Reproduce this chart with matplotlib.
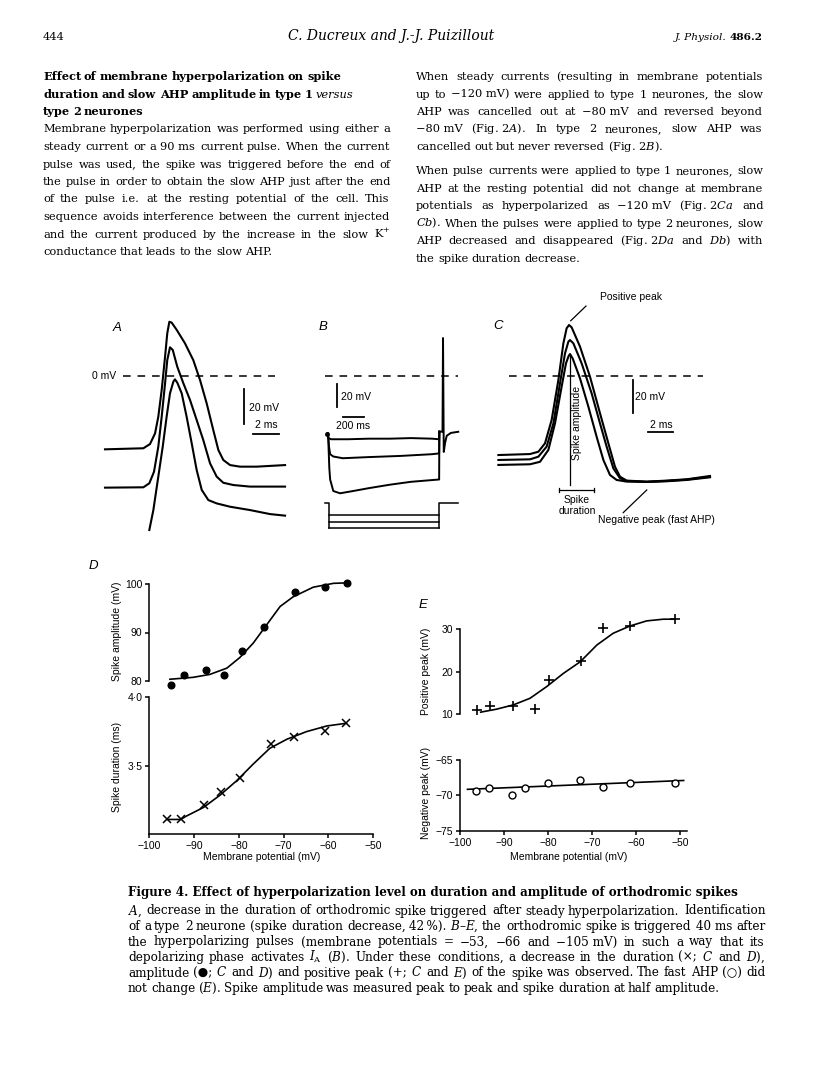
import numpy as np
import matplotlib
matplotlib.use('Agg')
from matplotlib import pyplot as plt

plt.rcParams['font.family'] = ['DejaVu Serif', 'DejaVu Sans']
plt.rcParams['mathtext.fontset'] = 'dejavuserif'
SANS = ['Liberation Sans', 'DejaVu Sans']

# ---- panel A: spikes after steady hyperpolarization (ms, mV)
a_t1 = [0, 2.95, 3.46, 3.85, 4.10, 4.36, 4.62, 4.79, 4.95, 5.13, 5.52, 6.15, 6.79, 7.31, 7.82, 8.33, 8.72, 9.10, 9.62, 10.38, 11.67, 13.85]
a_v1 = [-41.9, -41.3, -38.9, -32.8, -23.3, -8.0, 11.0, 24.4, 31.0, 30.5, 26.3, 18.7, 9.1, -2.3, -15.6, -30.9, -42.3, -48.0, -50.9, -51.8, -51.8, -50.9]
a_t2 = [0, 2.95, 3.41, 3.77, 4.10, 4.36, 4.62, 4.79, 5.0, 5.21, 5.56, 6.03, 6.54, 7.05, 7.56, 8.08, 8.59, 9.10, 9.87, 11.15, 13.85]
a_v2 = [-63.8, -63.6, -61.3, -54.7, -40.4, -23.3, -4.2, 9.1, 16.4, 14.9, 5.3, -4.2, -13.7, -25.1, -36.6, -49.9, -57.5, -61.0, -62.3, -63.2, -63.2]
a_t3 = [3.41, 3.72, 4.10, 4.44, 4.74, 5.0, 5.26, 5.38, 5.56, 5.90, 6.28, 6.67, 7.05, 7.44, 7.95, 8.59, 9.62, 11.15, 12.69, 13.85]
a_v3 = [-88, -76.6, -57.5, -40.4, -23.3, -9.9, -3.2, -1.9, -3.8, -9.9, -23.3, -38.5, -53.7, -65.1, -70.9, -72.8, -74.7, -76.6, -78.9, -79.8]

# ---- panel B: hyperpolarizing pulses (ms, mV)
b_t_top = [3, 12, 40, 200, 400, 600, 800, 1000, 1068, 1070]
b_v_top = [-50, -54, -55, -55, -54.5, -54.5, -54, -54.5, -55, -48.4]
b_t_mid = [10, 20, 30, 60, 150, 400, 700, 1000, 1068, 1070]
b_v_mid = [-50, -62, -68, -70, -71.5, -70.5, -69.5, -68, -67.3, -48.4]
b_t_low = [10, 22, 30, 60, 124, 250, 400, 600, 800, 1000, 1068, 1070]
b_v_low = [-50, -80, -90, -100, -102, -100, -97.5, -94.5, -92, -90.5, -90, -48.4]
b_t_post = [1070, 1100, 1105, 1112, 1125, 1140, 1180, 1250]
b_v_post = [-48.4, -48.4, 33, -66, -58, -52, -49.5, -48.5]
stim_t = [-19, 22, 1070, 1250]          # start, pulse on, pulse off, end
stim_base = -110.2
stim_levels = [-120.9, -126.7, -132.4]

# ---- panel C: spikes after pulses (ms, mV)
c_t1 = [0.03, 2.56, 3.23, 3.76, 4.29, 4.83, 5.23, 5.49, 5.68, 5.89, 6.56, 7.36, 8.16, 8.83, 9.36, 9.76, 10.29, 11.89, 13.49, 15.09, 16.96]
c_v1 = [-47.9, -47.3, -45.9, -40.8, -26.7, -2.4, 19.8, 28.9, 30.9, 29.5, 17.8, -0.4, -22.6, -40.8, -55.0, -61.0, -63.4, -64.0, -63.4, -62.6, -60.6]
c_t2 = [0.03, 2.56, 3.23, 3.89, 4.43, 4.96, 5.36, 5.63, 5.76, 6.03, 6.69, 7.49, 8.16, 8.69, 9.23, 9.76, 10.29, 11.89, 13.49, 15.09, 16.96]
c_v2 = [-50.9, -50.5, -48.9, -42.8, -28.7, -4.4, 13.7, 20.8, 21.8, 19.8, 7.7, -10.5, -28.7, -42.8, -56.0, -62.0, -63.6, -64.2, -63.6, -62.8, -61.0]
c_t3 = [0.03, 2.56, 3.36, 4.03, 4.56, 5.09, 5.44, 5.65, 5.76, 5.97, 6.56, 7.23, 7.89, 8.43, 8.96, 9.49, 10.29, 11.89, 13.49, 15.09, 16.96]
c_v3 = [-53.9, -53.5, -52.0, -44.8, -28.7, -6.5, 7.7, 12.1, 13.3, 10.7, -1.4, -18.6, -36.8, -50.9, -60.0, -63.0, -64.0, -64.2, -63.8, -63.0, -61.4]

# ---- panel D
d_amp_mv = [-95.2, -92.3, -87.4, -83.3, -79.3, -74.4, -67.4, -60.7, -55.8]
d_amp = [79.1, 81.2, 82.2, 81.2, 86.2, 91.1, 98.4, 99.4, 100.3]
d_amp_fit_mv = [-95.4, -90.2, -86.5, -82.7, -79.8, -76.8, -73.8, -70.8, -67.9, -63.4, -58.9, -55.8]
d_amp_fit = [80.3, 80.7, 81.3, 82.6, 84.8, 87.8, 91.6, 95.4, 97.4, 99.4, 100.2, 100.3]
d_dur_mv = [-96.0, -93.0, -87.9, -83.9, -79.8, -72.8, -67.8, -60.8, -56.0]
d_dur = [3.107, 3.107, 3.21, 3.31, 3.407, 3.659, 3.712, 3.756, 3.81]
d_dur_fit_mv = [-96.0, -93.0, -91.7, -87.9, -84.2, -80.5, -76.8, -73.1, -69.3, -64.9, -60.4, -56.0]
d_dur_fit = [3.107, 3.107, 3.132, 3.195, 3.285, 3.39, 3.512, 3.627, 3.693, 3.749, 3.79, 3.81]

# ---- panel E
e_pos_mv = [-96.2, -93.2, -88.0, -82.9, -79.7, -72.6, -67.6, -61.4, -51.1]
e_pos = [11.0, 12.0, 12.0, 11.2, 18.0, 22.5, 30.2, 30.7, 32.3]
e_pos_fit_mv = [-95.3, -91.7, -87.9, -84.1, -80.3, -76.5, -72.7, -68.9, -65.2, -61.4, -57.6, -53.8, -51.1]
e_pos_fit = [10.5, 11.2, 12.2, 13.75, 16.5, 19.6, 22.3, 26.25, 29.0, 30.7, 31.9, 32.3, 32.3]
e_neg_mv = [-96.4, -93.3, -88.3, -85.2, -80.0, -72.7, -67.6, -61.4, -51.1]
e_neg = [-69.4, -69.0, -69.9, -68.9, -68.3, -67.8, -68.8, -68.3, -68.3]
e_neg_fit_mv = [-98.3, -49.2]
e_neg_fit = [-69.15, -67.9]

x_ticks = [-100, -90, -80, -70, -60, -50]
x_ticklabels = ['\u2212100', '\u221290', '\u221280', '\u221270', '\u221260', '\u221250']

# ---- page text
heading = ['Effect of membrane hyperpolarization on spike',
           'duration and slow AHP amplitude in type 1 ~versus',
           'type 2 neurones']
left_body = ['Membrane hyperpolarization was performed using either a',
             'steady current or a 90\u00a0ms current pulse. When the current',
             'pulse was used, the spike was triggered before the end of',
             'the pulse in order to obtain the slow AHP just after the end',
             'of the pulse i.e. at the resting potential of the cell. This',
             'sequence avoids interference between the current injected',
             'and the current produced by the increase in the slow K$^{+}$',
             'conductance that leads to the slow AHP.']
right_p1 = ['When steady currents (resulting in membrane potentials',
            'up to \u2212120\u00a0mV) were applied to type 1 neurones, the slow',
            'AHP was cancelled out at \u221280\u00a0mV and reversed beyond',
            '\u221280\u00a0mV (Fig.\u00a02$A$). In type 2 neurones, slow AHP was',
            'cancelled out but never reversed (Fig.\u00a02$B$).']
right_p2 = ['When pulse currents were applied to type 1 neurones, slow',
            'AHP at the resting potential did not change at membrane',
            'potentials as hyperpolarized as \u2212120\u00a0mV (Fig.\u00a02$Ca$ and',
            '$Cb$). When the pulses were applied to type 2 neurones, slow',
            'AHP decreased and disappeared (Fig.\u00a02$Da$ and $Db$) with',
            'the spike duration decrease.']
caption_title = 'Figure 4. Effect of hyperpolarization level on duration and amplitude of orthodromic spikes'
caption = ['$A$, decrease in the duration of orthodromic spike triggered after steady hyperpolarization. Identification',
           'of a type 2 neurone (spike duration decrease, 42\u2009%). $B$\u2013$E$, the orthodromic spike is triggered 40\u00a0ms after',
           'the hyperpolarizing pulses (membrane potentials = \u221253, \u221266 and \u2212105\u00a0mV) in such a way that its',
           'depolarizing phase activates $I_{\\mathrm{A}}$ ($B$). Under these conditions, a decrease in the duration (\u00d7; $C$ and $D$),',
           'amplitude (\u25cf; $C$ and $D$) and positive peak (+; $C$ and $E$) of the spike was observed. The fast AHP (\u25cb) did',
           'not change ($E$). Spike amplitude was measured peak to peak and spike duration at half amplitude.']

W, H = 816, 1088
fig = plt.figure(figsize=(W / 100, H / 100), dpi=100)
renderer = fig.canvas.get_renderer()


def fx(x):
    return x / W


def fy(y):
    return 1 - y / H


def ptext(x, y, s, **kw):
    kw.setdefault('family', SANS)
    kw.setdefault('fontsize', 7.5)
    kw.setdefault('va', 'center')
    return fig.text(fx(x), fy(y), s, **kw)


def make_words(line, y, size, weight):
    arts = []
    for w in line.split(' '):
        style, wt = 'normal', weight
        if w.startswith('~'):
            w, style, wt = w[1:], 'italic', 'normal'
        arts.append(fig.text(0, fy(y), w, fontsize=size, weight=wt, style=style, va='baseline'))
    widths = [a.get_window_extent(renderer).width for a in arts]
    return arts, widths


def natural_width(line, size, weight='normal'):
    arts, widths = make_words(line, 0, size, weight)
    for a in arts:
        a.remove()
    return sum(widths) + (len(widths) - 1) * size * 100 / 72 * 0.27


def fit_size(lines, target, base=10.0, weight='normal', frac=0.99):
    worst = max(natural_width(l, base, weight) for l in lines)
    return base * target * frac / worst


def words_line(line, x0, y, x1=None, size=10, weight='normal'):
    arts, widths = make_words(line, y, size, weight)
    gap = size * 100 / 72 * 0.27
    if x1 is not None and len(arts) > 1:
        gap = (x1 - x0 - sum(widths)) / (len(arts) - 1)
    x = x0
    for a, w in zip(arts, widths):
        a.set_x(fx(round(x)))
        x += w + gap


def paragraph(lines, x0, x1, y0, step, size):
    for i, line in enumerate(lines):
        last = i == len(lines) - 1
        words_line(line, x0, y0 + i * step, None if last else x1, size=size)


def px_axes(left, top, right, bottom):
    ax = fig.add_axes([left / W, 1 - bottom / H, (right - left) / W, (bottom - top) / H])
    ax.patch.set_visible(False)
    return ax


def trace_axes(left, top, right, bottom, x0px, y0px, px_x, px_y):
    ax = px_axes(left, top, right, bottom)
    ax.set_xlim((left - x0px) / px_x, (right - x0px) / px_x)
    ax.set_ylim((y0px - bottom) / px_y, (y0px - top) / px_y)
    ax.axis('off')
    return ax


# ---------------- page header and text
body_size = fit_size(left_body[:-1] + right_p1[:-1] + right_p2[:-1], 347)
cap_size = fit_size(caption[:-1], 637)
head_size = fit_size([heading[0]], 296, weight='bold', frac=1.0)
title_size = fit_size([caption_title], 600, weight='bold', frac=1.0)

fig.text(fx(43), fy(40), '444', fontsize=body_size, va='baseline')
fig.text(fx(391), fy(40), 'C. Ducreux and J.-J. Puizillout', fontsize=body_size * 1.22, style='italic',
         ha='center', va='baseline')
t = fig.text(fx(763), fy(40), '486.2', fontsize=body_size * 0.92, weight='bold', ha='right', va='baseline')
wv = t.get_window_extent(renderer).width
fig.text(fx(763 - wv - 3), fy(40), 'J. Physiol.', fontsize=body_size * 0.92, style='italic', ha='right', va='baseline')

for i, line in enumerate(heading):
    words_line(line, 43, 80 + i * 17.5, None, size=head_size, weight='bold')
paragraph(left_body, 43, 390, 132.5, 17.5, body_size)
paragraph(right_p1, 416, 763, 80, 17.5, body_size)
paragraph(right_p2, 416, 763, 174, 17.5, body_size)

fig.text(fx(128), fy(896), caption_title, fontsize=title_size, weight='bold', va='baseline')
paragraph(caption, 128, 765, 914.5, 15.5, cap_size)

lw_tr = 1.5
# ---------------- panel A
ax = trace_axes(90, 300, 300, 540, 105, 376, 13.0, 1.75)
for tt, vv in [(a_t1, a_v1), (a_t2, a_v2), (a_t3, a_v3)]:
    ax.plot(tt, vv, color='k', lw=lw_tr, solid_joinstyle='round')
ax.plot([1.38, 13.08], [0, 0], color='k', lw=1.1, linestyle=(0, (5, 4.5)))
ax.plot([10.69, 10.69], [-27.4, -7.4], color='k', lw=1.3)
ax.plot([11.38, 13.38], [-33.1, -33.1], color='k', lw=1.3)
ptext(117, 328, 'A', fontsize=9.5, style='italic', ha='center')
ptext(116, 376, '0 mV', ha='right')
ptext(249, 408, '20 mV', ha='left')
ptext(266, 425, '2 ms', ha='center')

# ---------------- panel B
ax = trace_axes(318, 300, 468, 540, 327, 376, 0.105, 1.15)
for tt, vv in [(b_t_top, b_v_top), (b_t_mid, b_v_mid), (b_t_low, b_v_low), (b_t_post, b_v_post)]:
    ax.plot(tt, vv, color='k', lw=1.4)
ax.plot([3], [-50], 'o', color='k', ms=2.5)
ax.plot([-19, 1248], [0, 0], color='k', lw=1.1, linestyle=(0, (5, 4.5)))
ax.plot([95.2, 95.2], [-27, -7], color='k', lw=1.3)
ax.plot([152.4, 352.4], [-35.7, -35.7], color='k', lw=1.3)
ax.plot([stim_t[0], stim_t[1], stim_t[1]], [stim_base, stim_base, stim_levels[-1]], color='k', lw=1.1)
ax.plot([stim_t[2], stim_t[2], stim_t[3]], [stim_levels[-1], stim_base, stim_base], color='k', lw=1.1)
for lev in stim_levels:
    ax.plot([stim_t[1], stim_t[2]], [lev, lev], color='k', lw=1.1)
ptext(323, 327, 'B', fontsize=9.5, style='italic', ha='center')
ptext(341, 397, '20 mV', ha='left')
ptext(353, 426, '200 ms', ha='center')

# ---------------- panel C
ax = trace_axes(490, 290, 770, 540, 498, 376, 12.5, 1.65)
for tt, vv in [(c_t1, c_v1), (c_t2, c_v2), (c_t3, c_v3)]:
    ax.plot(tt, vv, color='k', lw=lw_tr, solid_joinstyle='round')
ax.plot([0.88, 16.4], [0, 0], color='k', lw=1.1, linestyle=(0, (5, 4.5)))
ax.plot([10.8, 10.8], [-22.4, -2.4], color='k', lw=1.3)
ax.plot([12.0, 14.0], [-33.9, -33.9], color='k', lw=1.3)
ax.plot([5.76, 5.76], [13.3, -66.1], color='k', lw=0.9)
ax.plot([4.88, 7.68], [-69.1, -69.1], color='k', lw=0.9)
ax.plot([4.88, 4.88], [-67.9, -70.3], color='k', lw=0.9)
ax.plot([7.68, 7.68], [-67.9, -70.3], color='k', lw=0.9)
ax.plot([5.82, 7.04], [33.5, 42.4], color='k', lw=0.9)
ax.plot([11.9, 10.02], [-69.1, -82.8], color='k', lw=0.9)
ptext(498, 326, 'C', fontsize=9.5, style='italic', ha='center')
ptext(600, 297, 'Positive peak', ha='left')
ptext(577, 423, 'Spike amplitude', ha='center', rotation=90)
ptext(577, 500, 'Spike', ha='center')
ptext(577, 511, 'duration', ha='center')
ptext(598, 520, 'Negative peak (fast AHP)', ha='left')
ptext(635, 397, '20 mV', ha='left')
ptext(661, 425, '2 ms', ha='center')


# ---------------- graphs D and E
def graph(left, top, right, bottom, xlim, ylim, yticks, ylabels, ybounds, xaxis):
    ax = px_axes(left, top, right, bottom)
    ax.set_xlim(xlim)
    ax.set_ylim(ylim)
    ax.spines['top'].set_visible(False)
    ax.spines['right'].set_visible(False)
    ax.spines['left'].set_bounds(*ybounds)
    ax.set_yticks(yticks)
    ax.set_yticklabels(ylabels, family=SANS, fontsize=7.5)
    if xaxis:
        ax.set_xticks(x_ticks)
        ax.set_xticklabels(x_ticklabels, family=SANS, fontsize=7.5)
    else:
        ax.spines['bottom'].set_visible(False)
        ax.set_xticks([])
    for s in ['left', 'bottom']:
        ax.spines[s].set_linewidth(1.1)
    ax.tick_params(direction='out', length=3, width=1.1, pad=2)
    return ax


ax = graph(149.3, 575, 373.3, 690, (-100, -50), (78.07, 101.93), [80, 90, 100], ['80', '90', '100'], (80, 100), False)
ax.plot(d_amp_fit_mv, d_amp_fit, color='k', lw=1.2, clip_on=False)
ax.plot(d_amp_mv, d_amp, 'o', color='k', ms=4.8, clip_on=False)

ax = graph(149.3, 690, 373.3, 834.1, (-100, -50), (3.0, 4.053), [3.5, 4.0], ['3\u00b75', '4\u00b70'], (3.0, 4.0), True)
ax.plot(d_dur_fit_mv, d_dur_fit, color='k', lw=1.2, clip_on=False)
ax.plot(d_dur_mv, d_dur, 'x', color='k', ms=5.5, mew=1.1, clip_on=False)

ax = graph(460, 620, 686.7, 725, (-100, -48.5), (7.49, 32.11), [10, 20, 30], ['10', '20', '30'], (10, 30), False)
ax.plot(e_pos_fit_mv, e_pos_fit, color='k', lw=1.2, clip_on=False)
ax.plot(e_pos_mv, e_pos, '+', color='k', ms=7, mew=1.2, clip_on=False)

ax = graph(460, 750, 686.7, 830.7, (-100, -48.5), (-75, -63.59), [-75, -70, -65],
           ['\u221275', '\u221270', '\u221265'], (-75, -65), True)
ax.plot(e_neg_fit_mv, e_neg_fit, color='k', lw=1.2, clip_on=False)
ax.plot(e_neg_mv, e_neg, 'o', color='k', mfc='white', ms=5, mew=1.0, clip_on=False)

ptext(93, 566, 'D', fontsize=9.5, style='italic', ha='center')
ptext(423, 605, 'E', fontsize=9.5, style='italic', ha='center')
ptext(116.7, 631.7, 'Spike amplitude (mV)', rotation=90, ha='center')
ptext(116.7, 766.7, 'Spike duration (ms)', rotation=90, ha='center')
ptext(261.7, 857.3, 'Membrane potential (mV)', ha='center')
ptext(426, 671.7, 'Positive peak (mV)', rotation=90, ha='center')
ptext(426, 793, 'Negative peak (mV)', rotation=90, ha='center')
ptext(568.3, 856.7, 'Membrane potential (mV)', ha='center')

fig.savefig('out.png', dpi=100)
